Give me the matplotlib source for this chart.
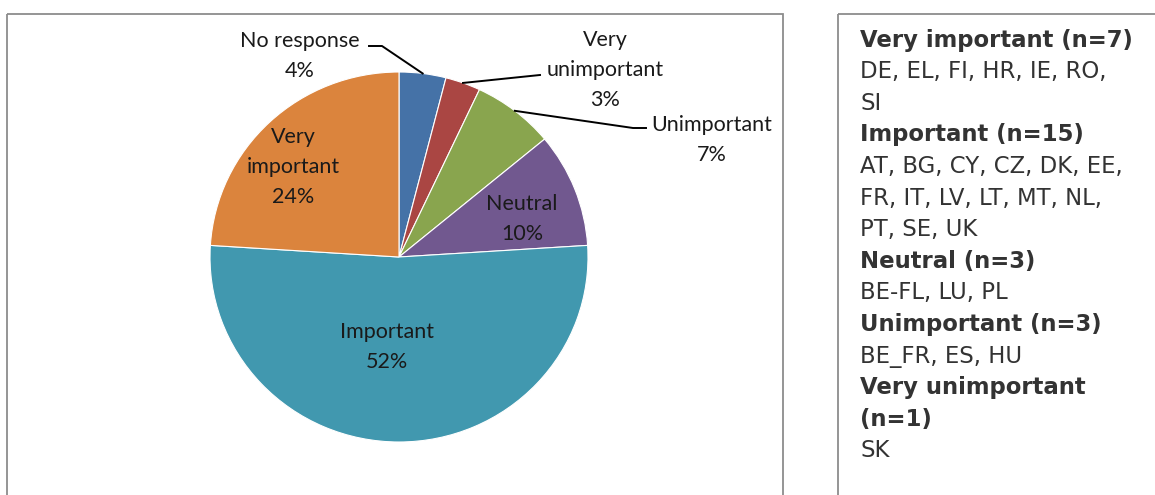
import numpy as np
import matplotlib
matplotlib.use("Agg")
import matplotlib.pyplot as plt
from matplotlib.patches import Rectangle

categories = ["No response", "Very\nunimportant", "Unimportant", "Neutral", "Important", "Very\nimportant"]
values = [4, 3, 7, 10, 52, 24]
colors = ["#4572A7", "#AA4643", "#89A54E", "#71588F", "#4198AF", "#DB843D"]

legend_lines = [
    ("Very important (n=7)", True),
    ("DE, EL, FI, HR, IE, RO,", False),
    ("SI", False),
    ("Important (n=15)", True),
    ("AT, BG, CY, CZ, DK, EE,", False),
    ("FR, IT, LV, LT, MT, NL,", False),
    ("PT, SE, UK", False),
    ("Neutral (n=3)", True),
    ("BE-FL, LU, PL", False),
    ("Unimportant (n=3)", True),
    ("BE_FR, ES, HU", False),
    ("Very unimportant", True),
    ("(n=1)", True),
    ("SK", False),
]

W, H = 1155, 495
fig = plt.figure(figsize=(W / 100, H / 100), dpi=100)
fig.patch.set_facecolor("white")

# pie axes
px0, py0, px1, py1 = 210, 72, 588, 442
axp = fig.add_axes([px0 / W, 1 - py1 / H, (px1 - px0) / W, (py1 - py0) / H])
wedges, _ = axp.pie(values, colors=colors, startangle=90, counterclock=False,
                    radius=1.0, wedgeprops=dict(linewidth=0.8, edgecolor="white"))
axp.set_aspect("auto")
axp.set_xlim(-1, 1)
axp.set_ylim(-1, 1)
axp.axis("off")

# overlay axes in pixel coordinates (on top)
ov = fig.add_axes([0, 0, 1, 1], zorder=5)
ov.set_xlim(0, W)
ov.set_ylim(H, 0)
ov.axis("off")
ov.patch.set_alpha(0)

# boxes
ov.add_patch(Rectangle((7, 14), 776, 500, fill=False, edgecolor="#8c8c8c", lw=1.3))
ov.add_patch(Rectangle((838, 14), 330, 500, fill=False, edgecolor="#8c8c8c", lw=1.3))

cx, cy = (px0 + px1) / 2, (py0 + py1) / 2
rx, ry = (px1 - px0) / 2, (py1 - py0) / 2

def edge_pt(i, r=1.0, frac=0.5):
    w = wedges[i]
    ang = np.deg2rad(w.theta1 + (w.theta2 - w.theta1) * frac)
    return cx + r * rx * np.cos(ang), cy - r * ry * np.sin(ang)

lab_font = dict(family=["Lato", "DejaVu Sans"], fontsize=15.5, color="#1a1a1a",
                ha="center", va="center", linespacing=1.6)

pct = [f"{v}%" for v in values]

# inside labels
for i, pos in [(3, (522, 219)), (4, (387, 347)), (5, (293, 167))]:
    ov.text(pos[0], pos[1], f"{categories[i]}\n{pct[i]}", **lab_font)

# outside labels with leader lines
ov.text(300, 56, f"{categories[0]}\n{pct[0]}", **lab_font)
ex, ey = edge_pt(0, frac=0.5)
ov.plot([369, 382, ex], [46, 46, ey], color="black", lw=1.4)

ov.text(605, 70, f"{categories[1]}\n{pct[1]}", **lab_font)
ex, ey = edge_pt(1, frac=0.5)
ov.plot([540, ex], [75, ey], color="black", lw=1.4)

ov.text(712, 140, f"{categories[2]}\n{pct[2]}", **lab_font)
ex, ey = edge_pt(2, frac=0.5)
ov.plot([646, 633, ex], [128, 128, ey], color="black", lw=1.4)

# right-hand text
y = 40
for txt, bold in legend_lines:
    ov.text(860, y, txt, family="DejaVu Sans", fontsize=16.4,
            fontweight="bold" if bold else "normal", color="#333333",
            ha="left", va="center")
    y += 31.6

fig.savefig("out.png", dpi=100, facecolor="white")
